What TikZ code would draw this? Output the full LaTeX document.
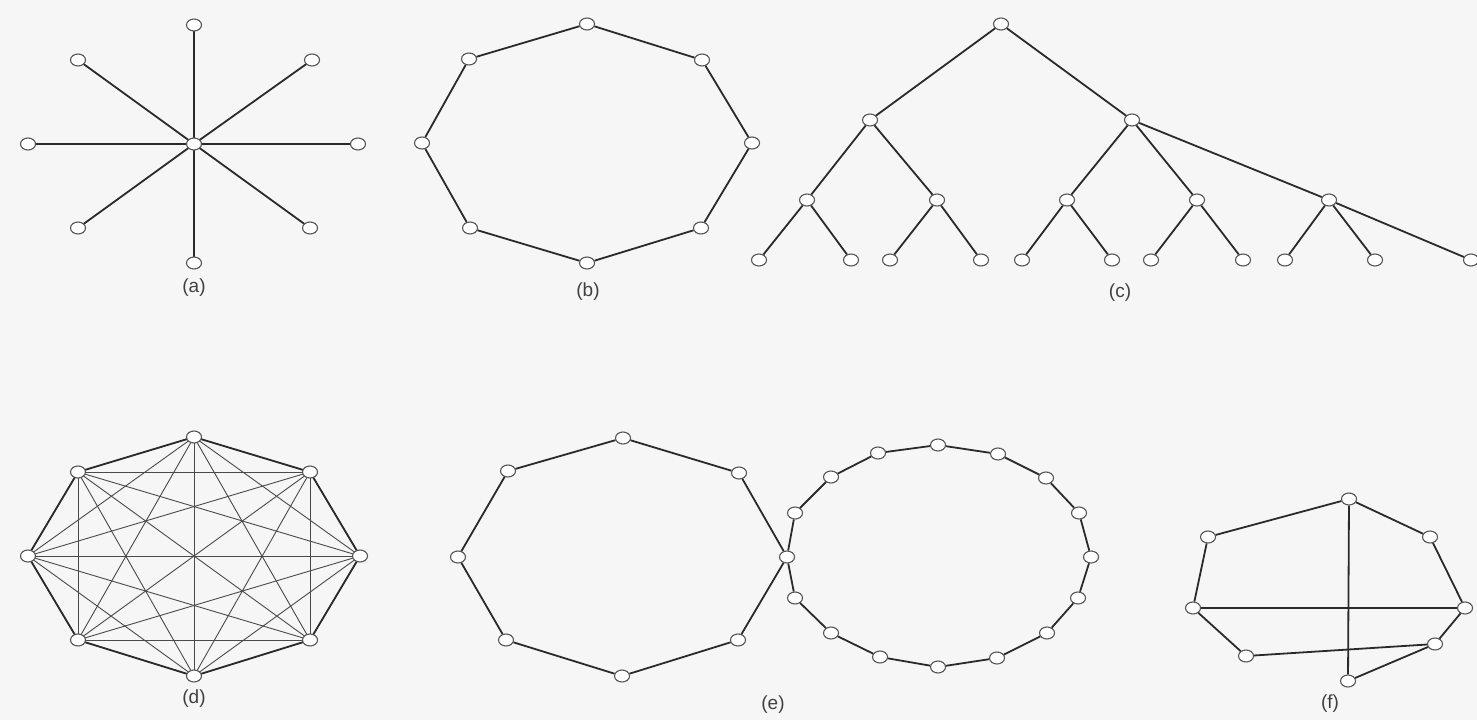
\documentclass[tikz,border=0pt]{standalone}
\usepackage{fontspec}
\newfontfamily\labfont{Liberation Sans}
\usetikzlibrary{shapes.geometric}
\definecolor{bgc}{HTML}{F6F6F6}
\definecolor{edgec}{HTML}{2A2A2A}
\definecolor{nodec}{HTML}{555555}
\tikzset{
  vtx/.style={ellipse, draw=nodec, fill=white, line width=1.1pt, minimum width=15pt, minimum height=12pt, inner sep=0pt},
  lnk/.style={draw=edgec, line width=1.8pt},
  thin lnk/.style={draw=edgec!85, line width=0.9pt},
  cap lbl/.style={font=\labfont\fontsize{19}{21}\selectfont, text=black!75, inner sep=0pt}
}
\begin{document}
\begin{tikzpicture}[x=1pt,y=-1pt]
\useasboundingbox (0,0) rectangle (1477,720);
\fill[bgc] (0,0) rectangle (1477,720);

% ---------- (a) star ----------
\foreach \n/\x/\y in {a1/194/25, a2/312/60, a3/358/144, a4/310/228, a5/194/263, a6/78/228, a7/28/144, a8/78/60}
  \coordinate (\n c) at (\x,\y);
\coordinate (a0c) at (194,144);
\foreach \n in {a1,a2,a3,a4,a5,a6,a7,a8}
  \draw[lnk] (a0c) -- (\n c);
\node[vtx] (a0) at (a0c) {};
\foreach \n in {a1,a2,a3,a4,a5,a6,a7,a8}
  \node[vtx] (\n) at (\n c) {};
\node[cap lbl] (la) at (194,288) {(a)};

% ---------- (b) ring ----------
\foreach \n/\x/\y in {b1/587/24, b2/702/60, b3/752/143, b4/701/228, b5/587/263, b6/470/228, b7/422/143, b8/469/59}
  \node[vtx] (\n) at (\x,\y) {};
\foreach \p/\q in {b1/b2, b2/b3, b3/b4, b4/b5, b5/b6, b6/b7, b7/b8, b8/b1}
  \draw[lnk] (\p) -- (\q);
\node[cap lbl] (lb) at (588,292) {(b)};

% ---------- (c) tree ----------
\node[vtx] (r) at (1001,24) {};
\node[vtx] (p1) at (870,120) {};
\node[vtx] (p2) at (1132,120) {};
\foreach \n/\x in {q1/807, q2/937, q3/1067, q4/1197, q5/1329}
  \node[vtx] (\n) at (\x,200) {};
\foreach \n/\x in {l1/759, l2/851, l3/890, l4/981, l5/1022, l6/1112, l7/1151, l8/1243, l9/1285, l10/1375, l11/1471}
  \node[vtx] (\n) at (\x,260) {};
\foreach \p/\q in {r/p1, r/p2, p1/q1, p1/q2, p2/q3, p2/q4, p2/q5,
  q1/l1, q1/l2, q2/l3, q2/l4, q3/l5, q3/l6, q4/l7, q4/l8, q5/l9, q5/l10, q5/l11}
  \draw[lnk] (\p) -- (\q);
\node[cap lbl] (lc) at (1120,293) {(c)};

% ---------- (d) complete graph ----------
\foreach \n/\x/\y in {d1/194/437, d2/310/472, d3/360/556, d4/310/640, d5/194/676, d6/78/640, d7/28/556, d8/78/472}
  \coordinate (\n c) at (\x,\y);
\foreach \i in {1,...,7}{
  \pgfmathtruncatemacro{\s}{\i+1}
  \foreach \j in {\s,...,8}{
    \draw[thin lnk] (d\i c) -- (d\j c);
  }
}
\foreach \p/\q in {d1/d2, d2/d3, d3/d4, d4/d5, d5/d6, d6/d7, d7/d8, d8/d1}
  \draw[lnk] (\p c) -- (\q c);
\foreach \n in {d1,d2,d3,d4,d5,d6,d7,d8}
  \node[vtx] (\n) at (\n c) {};
\node[cap lbl] (ld) at (194,699) {(d)};

% ---------- (e) two rings sharing a node ----------
\foreach \n/\x/\y in {e1/623/438, e2/739/473, e3/787/557, e4/738/640, e5/622/676, e6/506/640, e7/458/557, e8/508/471}
  \node[vtx] (\n) at (\x,\y) {};
\foreach \p/\q in {e1/e2, e2/e3, e3/e4, e4/e5, e5/e6, e6/e7, e7/e8, e8/e1}
  \draw[lnk] (\p) -- (\q);
\foreach \n/\x/\y in {g1/795/513, g2/831/477, g3/878/453, g4/938/445, g5/998/454, g6/1046/478, g7/1079/513, g8/1091/557, g9/1078/598, g10/1047/633, g11/997/658, g12/938/667, g13/880/657, g14/831/633, g15/795/598}
  \node[vtx] (\n) at (\x,\y) {};
\foreach \p/\q in {e3/g1, g1/g2, g2/g3, g3/g4, g4/g5, g5/g6, g6/g7, g7/g8, g8/g9, g9/g10, g10/g11, g11/g12, g12/g13, g13/g14, g14/g15, g15/e3}
  \draw[lnk] (\p) -- (\q);
\node[cap lbl] (le) at (773,705) {(e)};

% ---------- (f) irregular mesh ----------
\node[vtx] (f1) at (1349,499) {};
\node[vtx] (f2) at (1430,537) {};
\node[vtx] (f3) at (1465,608) {};
\node[vtx] (f4) at (1435,644) {};
\node[vtx] (f5) at (1348,681) {};
\node[vtx] (f6) at (1246,656) {};
\node[vtx] (f7) at (1193,608) {};
\node[vtx] (f8) at (1208,537) {};
\foreach \p/\q in {f1/f2, f2/f3, f3/f4, f4/f5, f4/f6, f6/f7, f7/f8, f8/f1, f7/f3, f1/f5}
  \draw[lnk] (\p) -- (\q);
\node[cap lbl] (lf) at (1330,704) {(f)};
\end{tikzpicture}
\end{document}
